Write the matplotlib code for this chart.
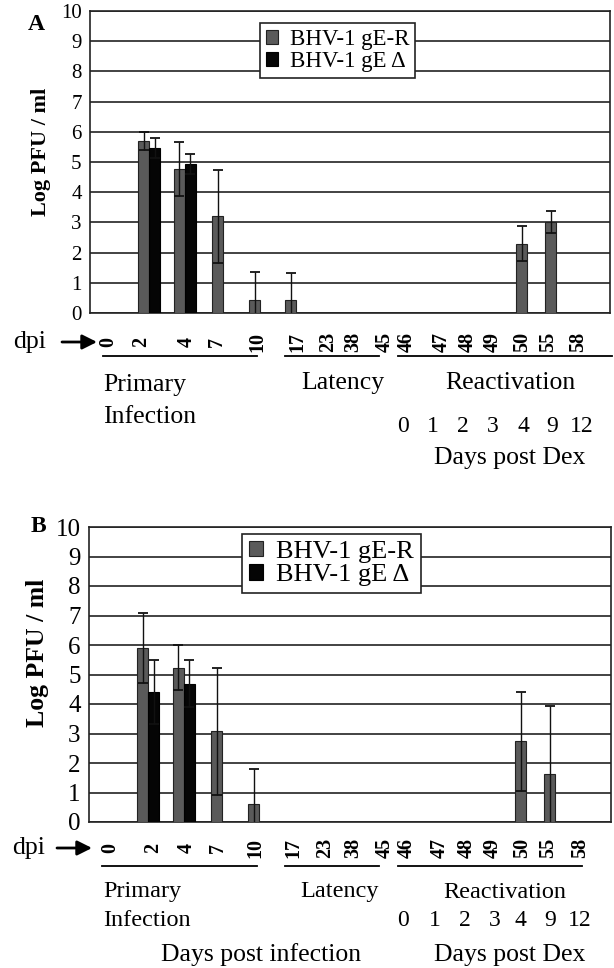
import numpy as np
import matplotlib
matplotlib.use("Agg")
import matplotlib.pyplot as plt
from matplotlib.lines import Line2D

# ── Figure geometry (pixels of the original scan) ────────────────────────────
W, H = 614, 968
DPI = 100

plt.rcParams.update({
    "font.family": ["Liberation Serif", "DejaVu Serif"],
    "axes.linewidth": 1.2,
    "axes.edgecolor": "#222222",
})

GRAY = "#5a5a5a"
BLACK = "#050505"

# ── Data ─────────────────────────────────────────────────────────────────────
BAR_DPI = ["2", "4", "7", "10", "17", "50", "55"]

# Panel A
A_GER = [5.69, 4.78, 3.20, 0.42, 0.42, 2.30, 3.02]
A_GER_ERR = [0.30, 0.89, 1.55, 0.94, 0.91, 0.57, 0.36]
A_DEL = [5.47, 4.93, np.nan, np.nan, np.nan, np.nan, np.nan]
A_DEL_ERR = [0.34, 0.33, np.nan, np.nan, np.nan, np.nan, np.nan]

# Panel B
B_GER = [5.91, 5.23, 3.08, 0.60, np.nan, 2.73, 1.62]
B_GER_ERR = [1.19, 0.76, 2.15, 1.20, np.nan, 1.67, 2.31]
B_DEL = [4.40, 4.69, np.nan, np.nan, np.nan, np.nan, np.nan]
B_DEL_ERR = [1.08, 0.79, np.nan, np.nan, np.nan, np.nan, np.nan]

DPI_LABELS = ["0", "2", "4", "7", "10", "17", "23", "38", "45",
              "46", "47", "48", "49", "50", "55", "58"]
DEX_LABELS = ["0", "1", "2", "3", "4", "9", "12"]

SERIES = ["BHV-1 gE-R", "BHV-1 gE \u0394"]

# ── Layout (positions in scan pixels) ────────────────────────────────────────
BAR_X = [59, 94.5, 133, 170, 206, 437, 466]     # group centres from axis left
BAR_W = 11

A_LABEL_X = [108, 141, 187, 217, 257, 297, 328, 353, 385,
             407, 442, 468, 493, 522, 548, 578]
B_LABEL_X = [110, 153, 187, 218, 255, 293, 325, 353, 385,
             407, 440, 467, 493, 522, 548, 580]
A_DEX_X = [403, 433, 463, 493, 523, 552, 582]
B_DEX_X = [403, 435, 465, 495, 520, 550, 580]


def fx(x):
    return x / W


def fy(y):
    return 1 - y / H


def hline(fig, x0, x1, y, lw=1.3):
    fig.add_artist(Line2D([fx(x0), fx(x1)], [fy(y), fy(y)],
                          color="black", lw=lw))


def panel(fig, box, ger, ger_err, dele, dele_err, tick_fs, ylab_fs,
          ylab_pos, leg_anchor, leg_fs):
    left, top, right, bottom = box
    ax = fig.add_axes([fx(left), fy(bottom), fx(right) - fx(left),
                       fy(top) - fy(bottom)])
    x = np.array(BAR_X)
    ax.bar(x - BAR_W / 2, ger, width=BAR_W, color=GRAY,
           edgecolor="#222222", linewidth=0.8, zorder=3, label=SERIES[0])
    ax.bar(x + BAR_W / 2, dele, width=BAR_W, color=BLACK,
           edgecolor="#000000", linewidth=0.8, zorder=3, label=SERIES[1])
    ax.errorbar(x - BAR_W / 2, ger, yerr=ger_err, fmt="none",
                ecolor="#111111", elinewidth=1.0, capsize=3.5,
                capthick=1.3, zorder=4)
    ax.errorbar(x + BAR_W / 2, dele, yerr=dele_err, fmt="none",
                ecolor="#111111", elinewidth=1.0, capsize=3.5,
                capthick=1.3, zorder=4)

    ax.set_xlim(0, right - left)
    ax.set_ylim(0, 10)
    ax.set_xticks([])
    ax.set_yticks(range(0, 11))
    ax.tick_params(axis="y", length=0, pad=6, labelsize=tick_fs)
    ax.grid(axis="y", color="#222222", linewidth=1.2, zorder=0)
    ax.set_axisbelow(True)
    ax.set_ylabel("Log PFU / ml", fontsize=ylab_fs, fontweight="bold")
    # label anchor (right edge, vertical centre) given in scan pixels
    ax.yaxis.set_label_coords((ylab_pos[0] - left) / (right - left),
                              (bottom - ylab_pos[1]) / (bottom - top))

    leg = ax.legend(loc="upper left",
                    bbox_to_anchor=(fx(leg_anchor[0]), fy(leg_anchor[1])),
                    bbox_transform=fig.transFigure, fontsize=leg_fs,
                    frameon=True, fancybox=False, framealpha=1,
                    edgecolor="#222222", handlelength=0.55,
                    handleheight=0.55, handletextpad=0.5,
                    labelspacing=0.05, borderpad=0.25, borderaxespad=0)
    leg.get_frame().set_linewidth(1.2)
    leg.set_zorder(10)
    return ax


def dpi_row(fig, ax, y, labels_x, arrow, dpi_x, fs=14.5):
    fig.text(fx(dpi_x), fy(y), "dpi", fontsize=18.5, ha="left", va="center")
    ax.annotate("", xy=(fx(arrow[1]), fy(y)), xytext=(fx(arrow[0]), fy(y)),
                xycoords="figure fraction", textcoords="figure fraction",
                arrowprops=dict(arrowstyle="-|>", color="black", lw=2.0,
                                mutation_scale=22, shrinkA=0, shrinkB=0))
    for lab, xp in zip(DPI_LABELS, labels_x):
        fig.text(fx(xp), fy(y), lab, rotation=90, ha="center",
                 va="center", fontsize=fs, fontweight="bold")


fig = plt.figure(figsize=(W / DPI, H / DPI), dpi=DPI)

# ═════════════════════════════════════════════════════════════════════════════
# Panel A
# ═════════════════════════════════════════════════════════════════════════════
axA = panel(fig, (90, 11, 610, 313), A_GER, A_GER_ERR, A_DEL, A_DEL_ERR,
            tick_fs=15, ylab_fs=16, ylab_pos=(51, 152),
            leg_anchor=(260, 23), leg_fs=16.5)
fig.text(fx(36), fy(25), "A", fontsize=17, fontweight="bold",
         ha="center", va="center")
dpi_row(fig, axA, 342, A_LABEL_X, (62, 97), 13)
hline(fig, 103, 257, 356)
hline(fig, 285, 379, 356)
hline(fig, 398, 612, 356)
fig.text(fx(103), fy(385), "Primary", fontsize=18.5, ha="left", va="center")
fig.text(fx(103), fy(417), "Infection", fontsize=18.5, ha="left",
         va="center")
fig.text(fx(343), fy(383), "Latency", fontsize=18.5, ha="center",
         va="center")
fig.text(fx(510), fy(383), "Reactivation", fontsize=18.5, ha="center",
         va="center")
for lab, xp in zip(DEX_LABELS, A_DEX_X):
    fig.text(fx(xp), fy(427), lab, fontsize=17, ha="center", va="center")
fig.text(fx(510), fy(458), "Days post Dex", fontsize=18.5, ha="center",
         va="center")

# ═════════════════════════════════════════════════════════════════════════════
# Panel B
# ═════════════════════════════════════════════════════════════════════════════
axB = panel(fig, (89, 527, 611, 822), B_GER, B_GER_ERR, B_DEL, B_DEL_ERR,
            tick_fs=18, ylab_fs=18.5, ylab_pos=(49, 653),
            leg_anchor=(242, 534), leg_fs=19)
fig.text(fx(38), fy(526), "B", fontsize=17, fontweight="bold",
         ha="center", va="center")
dpi_row(fig, axB, 848, B_LABEL_X, (57, 92), 12)
hline(fig, 102, 257, 866)
hline(fig, 285, 379, 866)
hline(fig, 398, 582, 866)
fig.text(fx(103), fy(892), "Primary", fontsize=17.5, ha="left", va="center")
fig.text(fx(103), fy(920), "Infection", fontsize=17.5, ha="left",
         va="center")
fig.text(fx(340), fy(892), "Latency", fontsize=17.5, ha="center",
         va="center")
fig.text(fx(505), fy(892), "Reactivation", fontsize=17.5, ha="center",
         va="center")
for lab, xp in zip(DEX_LABELS, B_DEX_X):
    fig.text(fx(xp), fy(920), lab, fontsize=17, ha="center", va="center")
fig.text(fx(261), fy(955), "Days post infection", fontsize=18.5,
         ha="center", va="center")
fig.text(fx(510), fy(955), "Days post Dex", fontsize=18.5, ha="center",
         va="center")

fig.savefig("out.png", dpi=DPI, facecolor="white")
